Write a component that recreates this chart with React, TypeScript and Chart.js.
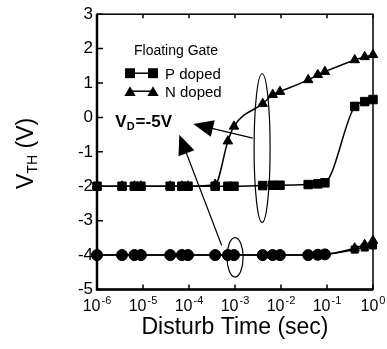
import React, { useEffect, useRef } from "react";
import { Chart, registerables } from "chart.js";

Chart.register(...registerables);

// ---- Data ----
const times = [1e-6, 3.5e-6, 6.5e-6, 9e-6, 3.9e-5, 7e-5, 9.5e-5, 3.7e-4, 7e-4, 9.5e-4, 4e-3, 6.6e-3, 9.5e-3, 3.9e-2, 6.3e-2, 9e-2, 0.4, 0.66, 1.0];
const pDopedProgram = [-2, -2, -2, -2, -2, -2, -2, -2, -2, -2, -1.98, -1.97, -1.97, -1.95, -1.93, -1.9, 0.32, 0.46, 0.52];
const nDopedProgram = [-2, -2, -2, -2, -2, -2, -2, -1.95, -0.69, -0.26, 0.4, 0.66, 0.75, 1.09, 1.24, 1.33, 1.67, 1.76, 1.82];
const pDopedErase = [-4, -4, -4, -4, -4, -4, -4, -4, -4, -4, -4, -4, -4, -4, -3.99, -3.98, -3.84, -3.78, -3.72];
const nDopedErase = [-4, -4, -4, -4, -4, -4, -4, -4, -4, -4, -4, -4, -4, -4, -3.99, -3.98, -3.8, -3.7, -3.58];

const yTickValues = [-5, -4, -3, -2, -1, 0, 1, 2, 3];
const xTickExponents = [-6, -5, -4, -3, -2, -1, 0];

const legendTitle = "Floating Gate";
const xTitle = "Disturb Time (sec)";
const yTitleMain = "V";
const yTitleSub = "TH";
const yTitleRest = " (V)";
const biasMain = "V";
const biasSub = "D";
const biasRest = "=-5V";

// annotations in data units
const ellipses = [
  { xMin: 2.6e-3, xMax: 5.8e-3, yMin: -3.05, yMax: 1.27 },
  { xMin: 6.7e-4, xMax: 1.5e-3, yMin: -4.64, yMax: -3.49 },
];
const arrows = [
  { fromX: 2.43e-3, fromY: -0.6, toX: 1.24e-4, toY: -0.19 },
  { fromX: 5.14e-4, fromY: -3.72, toX: 6.15e-5, toY: -0.5 },
];
const biasLabelPos = { x: 2.5e-6, y: -0.29 };

const FONT = "'Liberation Sans', Arial, Helvetica, sans-serif";

function drawMarker(ctx: CanvasRenderingContext2D, style: string, x: number, y: number, r: number) {
  ctx.beginPath();
  if (style === "rect") {
    const s = r * Math.SQRT1_2;
    ctx.rect(x - s, y - s, 2 * s, 2 * s);
  } else {
    for (let k = 0; k < 3; k++) {
      const ang = -Math.PI / 2 + (k * 2 * Math.PI) / 3;
      const px = x + Math.cos(ang) * r;
      const py = y + Math.sin(ang) * r + r * 0.25;
      if (k === 0) ctx.moveTo(px, py);
      else ctx.lineTo(px, py);
    }
    ctx.closePath();
  }
  ctx.fill();
}

const framePlugin = {
  id: "frame",
  beforeDatasetsDraw(chart: any) {
    const { ctx, chartArea: a, scales } = chart;
    const x = scales.x;
    const y = scales.y;
    ctx.save();
    ctx.strokeStyle = "#000";
    ctx.lineWidth = 1.5;
    ctx.strokeRect(a.left, a.top, a.right - a.left, a.bottom - a.top);
    ctx.lineWidth = 2.5;
    ctx.beginPath();
    ctx.moveTo(a.left, a.top);
    ctx.lineTo(a.left, a.bottom);
    ctx.lineTo(a.right, a.bottom);
    ctx.stroke();
    ctx.lineWidth = 1.5;
    ctx.beginPath();
    for (const v of yTickValues) {
      const py = y.getPixelForValue(v);
      ctx.moveTo(a.left, py);
      ctx.lineTo(a.left + 6, py);
    }
    for (const e of xTickExponents) {
      const px = x.getPixelForValue(Math.pow(10, e));
      ctx.moveTo(px, a.bottom);
      ctx.lineTo(px, a.bottom - 5);
      ctx.moveTo(px, a.top);
      ctx.lineTo(px, a.top + 4);
    }
    ctx.stroke();

    // x tick labels with superscripts
    ctx.fillStyle = "#000";
    ctx.textBaseline = "alphabetic";
    ctx.textAlign = "left";
    for (const e of xTickExponents) {
      const px = x.getPixelForValue(Math.pow(10, e));
      ctx.font = `16px ${FONT}`;
      const wBase = ctx.measureText("10").width;
      ctx.font = `11px ${FONT}`;
      const sup = String(e);
      const wSup = ctx.measureText(sup).width;
      const start = px - (wBase + wSup + 1) / 2;
      ctx.font = `16px ${FONT}`;
      ctx.fillText("10", start, a.bottom + 21);
      ctx.font = `11px ${FONT}`;
      ctx.fillText(sup, start + wBase + 1, a.bottom + 14);
    }

    // x title
    ctx.font = `23px ${FONT}`;
    ctx.textAlign = "center";
    ctx.fillText(xTitle, (a.left + a.right) / 2, a.bottom + 44);

    // y title (rotated)
    ctx.save();
    ctx.translate(33, (a.top + a.bottom) / 2 + 1.5);
    ctx.rotate(-Math.PI / 2);
    ctx.textAlign = "left";
    ctx.font = `23px ${FONT}`;
    const w1 = ctx.measureText(yTitleMain).width;
    const w3 = ctx.measureText(yTitleRest).width;
    ctx.font = `14px ${FONT}`;
    const w2 = ctx.measureText(yTitleSub).width;
    const total = w1 + w2 + w3;
    let cx = -total / 2;
    ctx.font = `23px ${FONT}`;
    ctx.fillText(yTitleMain, cx, 0);
    cx += w1;
    ctx.font = `14px ${FONT}`;
    ctx.fillText(yTitleSub, cx, 4);
    cx += w2;
    ctx.font = `23px ${FONT}`;
    ctx.fillText(yTitleRest, cx, 0);
    ctx.restore();
    ctx.restore();
  },
  afterDatasetsDraw(chart: any) {
    const { ctx, chartArea: a, scales } = chart;
    const x = scales.x;
    const y = scales.y;
    ctx.save();
    ctx.strokeStyle = "#000";
    ctx.fillStyle = "#000";
    ctx.lineWidth = 1.2;
    for (const el of ellipses) {
      const x0 = x.getPixelForValue(el.xMin);
      const x1 = x.getPixelForValue(el.xMax);
      const y0 = y.getPixelForValue(el.yMax);
      const y1 = y.getPixelForValue(el.yMin);
      ctx.beginPath();
      ctx.ellipse((x0 + x1) / 2, (y0 + y1) / 2, (x1 - x0) / 2, (y1 - y0) / 2, 0, 0, Math.PI * 2);
      ctx.stroke();
    }
    for (const ar of arrows) {
      const fx = x.getPixelForValue(ar.fromX);
      const fy = y.getPixelForValue(ar.fromY);
      const tx = x.getPixelForValue(ar.toX);
      const ty = y.getPixelForValue(ar.toY);
      const dx = tx - fx;
      const dy = ty - fy;
      const len = Math.hypot(dx, dy);
      const ux = dx / len;
      const uy = dy / len;
      const headLen = 20;
      const headHalf = 8.5;
      const bx = tx - ux * headLen;
      const by = ty - uy * headLen;
      ctx.beginPath();
      ctx.moveTo(fx, fy);
      ctx.lineTo(bx + ux * 4, by + uy * 4);
      ctx.stroke();
      ctx.beginPath();
      ctx.moveTo(tx, ty);
      ctx.lineTo(bx - uy * headHalf, by + ux * headHalf);
      ctx.lineTo(bx + uy * headHalf, by - ux * headHalf);
      ctx.closePath();
      ctx.fill();
    }

    // bias label
    const lx = x.getPixelForValue(biasLabelPos.x);
    const ly = y.getPixelForValue(biasLabelPos.y);
    ctx.textAlign = "left";
    ctx.textBaseline = "alphabetic";
    ctx.font = `bold 17px ${FONT}`;
    const bw1 = ctx.measureText(biasMain).width;
    ctx.fillText(biasMain, lx, ly);
    ctx.font = `bold 11px ${FONT}`;
    const bw2 = ctx.measureText(biasSub).width;
    ctx.fillText(biasSub, lx + bw1, ly + 3);
    ctx.font = `bold 17px ${FONT}`;
    ctx.fillText(biasRest, lx + bw1 + bw2 + 1, ly);

    // legend
    ctx.font = `14px ${FONT}`;
    ctx.fillText(legendTitle, a.left + 37, a.top + 40.5);
    const rows = chart.data.datasets.filter((d: any) => d.showInLegend);
    const rowBaselines = [a.top + 64.5, a.top + 82.5];
    rows.forEach((d: any, i: number) => {
      const base = rowBaselines[i];
      const cy = base - 5.5;
      ctx.lineWidth = 1.5;
      ctx.beginPath();
      ctx.moveTo(a.left + 33, cy);
      ctx.lineTo(a.left + 56, cy);
      ctx.stroke();
      drawMarker(ctx, d.pointStyle, a.left + 33, cy, d.pointStyle === "rect" ? 7 : 6.5);
      drawMarker(ctx, d.pointStyle, a.left + 56, cy, d.pointStyle === "rect" ? 7 : 6.5);
      ctx.font = `15px ${FONT}`;
      ctx.fillText(d.label, a.left + 68, base);
    });
    ctx.restore();
  },
};

export default function App() {
  const ref = useRef<HTMLCanvasElement>(null);
  useEffect(() => {
    const toPts = (vals: number[]) => times.map((t, i) => ({ x: t, y: vals[i] }));
    const lowerStyles = (end: string) => times.map((_, i) => (i >= times.length - 3 ? end : "circle"));
    const common = {
      borderColor: "#000",
      backgroundColor: "#000",
      pointBorderColor: "#000",
      pointBackgroundColor: "#000",
      borderWidth: 1.5,
      pointBorderWidth: 1,
      clip: false as any,
      cubicInterpolationMode: "monotone" as const,
    };
    const chart = new Chart(ref.current!, {
      type: "line",
      data: {
        datasets: [
          { ...common, label: "P doped", showInLegend: true, data: toPts(pDopedProgram), pointStyle: "rect", pointRadius: 6 } as any,
          { ...common, label: "N doped", showInLegend: true, data: toPts(nDopedProgram), pointStyle: "triangle", pointRadius: 5.5 } as any,
          { ...common, label: "P doped (erased)", data: toPts(pDopedErase), pointStyle: lowerStyles("rect"), pointRadius: 5 } as any,
          { ...common, label: "N doped (erased)", data: toPts(nDopedErase), pointStyle: lowerStyles("triangle"), pointRadius: 5.5 } as any,
        ],
      },
      options: {
        responsive: false,
        animation: false,
        devicePixelRatio: 1,
        layout: { padding: { left: 0, right: 14, top: 12.5, bottom: 0 } },
        plugins: { legend: { display: false }, tooltip: { enabled: false } },
        scales: {
          x: {
            type: "logarithmic",
            min: 1e-6,
            max: 1,
            ticks: { display: false },
            grid: { display: false, drawTicks: false },
            border: { display: false },
            afterFit: (s: any) => {
              s.height = 59.5;
            },
          },
          y: {
            type: "linear",
            min: -5,
            max: 3,
            ticks: {
              stepSize: 1,
              color: "#000",
              padding: 4,
              font: { family: FONT, size: 17 },
              callback: (v: any) => (yTickValues.includes(Number(v)) ? String(v) : ""),
            },
            grid: { display: false, drawTicks: false },
            border: { display: false },
            afterFit: (s: any) => {
              s.width = 97;
            },
          },
        },
      },
      plugins: [framePlugin],
    });
    return () => chart.destroy();
  }, []);
  return (
    <div style={{ position: "absolute", left: 0, top: 0, width: 387, height: 349, background: "#fff" }}>
      <canvas ref={ref} width={387} height={349} style={{ display: "block" }} />
    </div>
  );
}
